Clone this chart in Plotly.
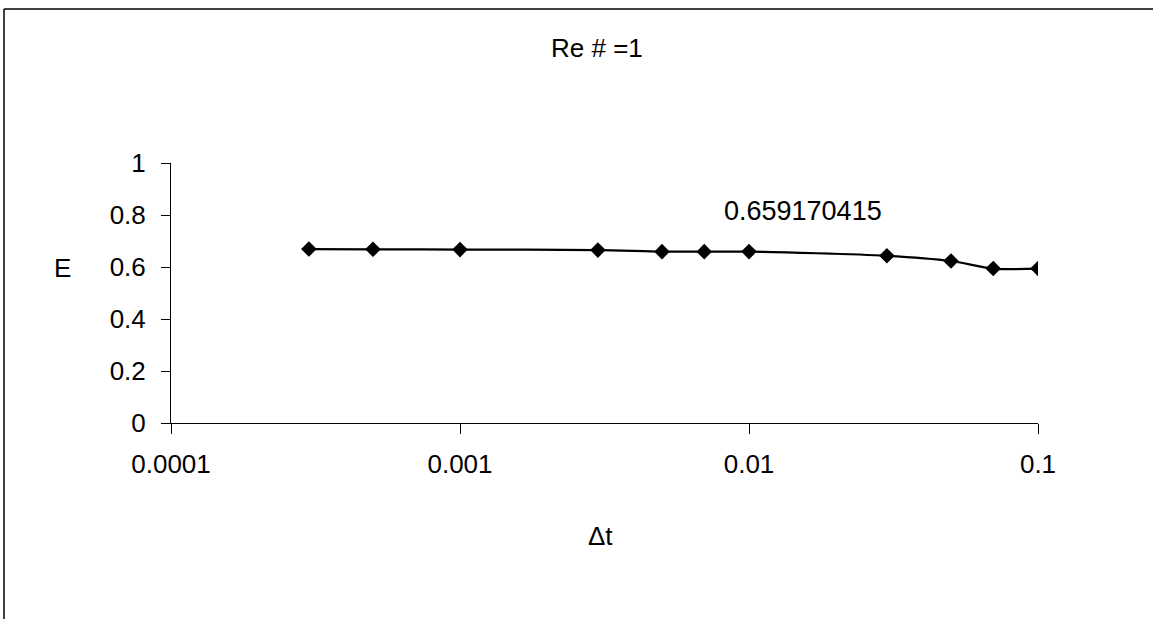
import math
import plotly.graph_objects as go

# Time step sizes and the resulting efficiency E
dt = [0.0003, 0.0005, 0.001, 0.003, 0.005, 0.007, 0.01, 0.03, 0.05, 0.07, 0.1]
E = [0.669, 0.668, 0.667, 0.665, 0.659, 0.659, 0.659170415, 0.643, 0.623, 0.594, 0.594]
labelled_index = 6

x_ticks = [0.0001, 0.001, 0.01, 0.1]
x_tick_text = ["0.0001", "0.001", "0.01", "0.1"]
y_ticks = [0, 0.2, 0.4, 0.6, 0.8, 1]
y_tick_text = ["0", "0.2", "0.4", "0.6", "0.8", "1"]

W, H = 1153, 619
L, R, T, B = 171, 1038, 163, 423
FONT = "Liberation Sans, Arial, sans-serif"


def px(x):
    return (x - L) / (R - L)


def py(y):
    return (B - y) / (B - T)


fig = go.Figure()
fig.add_trace(go.Scatter(
    x=dt, y=E, mode="lines+markers",
    line=dict(color="black", width=2.2, shape="spline", smoothing=0.8),
    marker=dict(symbol="diamond", size=12, color="black"),
    showlegend=False,
))

fig.update_layout(
    width=W, height=H,
    margin=dict(l=L, r=W - R, t=T, b=H - B, pad=0),
    paper_bgcolor="white", plot_bgcolor="white",
    font=dict(family=FONT, size=26, color="black"),
    xaxis=dict(
        type="log", range=[-4, -1], tickvals=x_ticks, ticktext=x_tick_text,
        showgrid=False, zeroline=False, showline=True, linecolor="black", linewidth=1,
        ticks="outside", ticklen=10, tickcolor="black", ticklabelstandoff=8,
        tickfont=dict(size=26),
    ),
    yaxis=dict(
        range=[0, 1], tickvals=y_ticks, ticktext=y_tick_text,
        showgrid=False, zeroline=False, showline=True, linecolor="black", linewidth=1,
        ticks="outside", ticklen=9, tickcolor="black", ticklabelstandoff=10,
        tickfont=dict(size=26),
    ),
)

annotations = [
    dict(text="Re # =1", x=px(597), y=py(48), xref="paper", yref="paper",
         showarrow=False, font=dict(size=26), xanchor="center", yanchor="middle"),
    dict(text="\u0394t", x=px(600), y=py(536), xref="paper", yref="paper",
         showarrow=False, font=dict(size=26), xanchor="center", yanchor="middle"),
    dict(text="E", x=px(62), y=py(268), xref="paper", yref="paper",
         showarrow=False, font=dict(size=26), xanchor="center", yanchor="middle"),
    # data label for the 0.01 point (log axis -> annotation x is log10)
    dict(text=str(E[labelled_index]), x=math.log10(dt[labelled_index]), y=E[labelled_index],
         xref="x", yref="y", showarrow=False, font=dict(size=27),
         xanchor="center", yanchor="middle", xshift=54, yshift=41),
]
fig.update_layout(annotations=annotations)

# Outer chart frame (top and left edges)
fig.add_shape(type="line", xref="paper", yref="paper",
              x0=px(4), x1=px(W), y0=py(9), y1=py(9),
              line=dict(color="black", width=1.5))
fig.add_shape(type="line", xref="paper", yref="paper",
              x0=px(4), x1=px(4), y0=py(9), y1=py(H),
              line=dict(color="black", width=1.5))

fig.write_html("out.html")
